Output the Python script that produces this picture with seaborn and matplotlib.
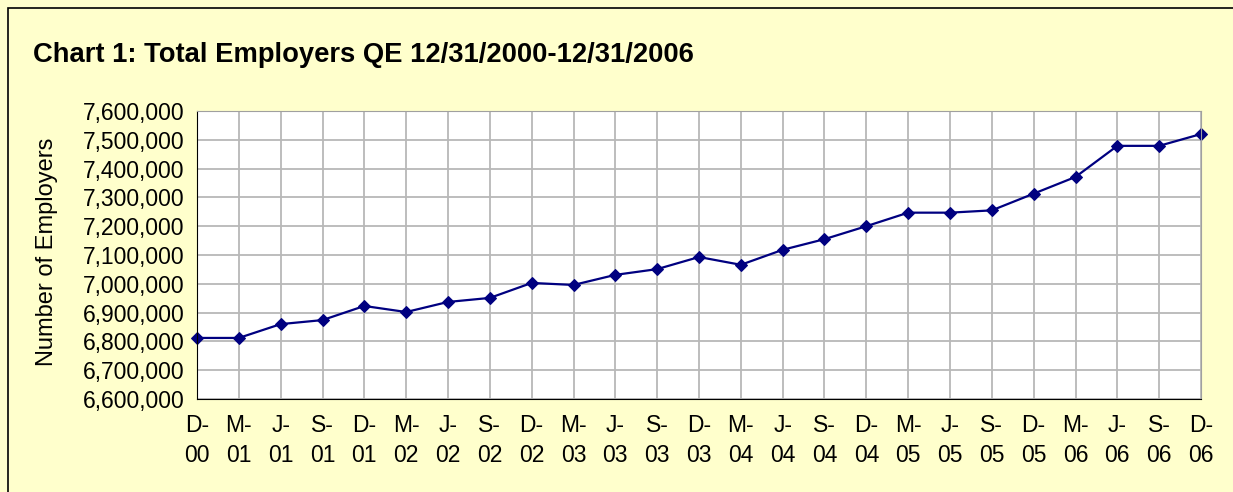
import matplotlib
matplotlib.use("Agg")
import matplotlib.pyplot as plt
import seaborn as sns
import pandas as pd
from matplotlib.ticker import FuncFormatter, MultipleLocator
from matplotlib.patches import Rectangle

quarters = ['D-\n00', 'M-\n01', 'J-\n01', 'S-\n01', 'D-\n01', 'M-\n02', 'J-\n02', 'S-\n02',
            'D-\n02', 'M-\n03', 'J-\n03', 'S-\n03', 'D-\n03', 'M-\n04', 'J-\n04', 'S-\n04',
            'D-\n04', 'M-\n05', 'J-\n05', 'S-\n05', 'D-\n05', 'M-\n06', 'J-\n06', 'S-\n06',
            'D-\n06']
employers = [6812000, 6812000, 6860000, 6874000, 6923000, 6902000, 6937000, 6951000,
             7003000, 6996000, 7031000, 7051000, 7093000, 7066000, 7118000, 7155000,
             7200000, 7247000, 7247000, 7255000, 7313000, 7371000, 7479000, 7479000,
             7520000]

df = pd.DataFrame({'pos': range(len(quarters)), 'employers': employers})

sns.set_style("white")
plt.rcParams['font.family'] = ['Liberation Sans', 'DejaVu Sans']
plt.rcParams['text.color'] = 'black'
plt.rcParams['xtick.color'] = 'black'
plt.rcParams['ytick.color'] = 'black'
plt.rcParams['axes.labelcolor'] = 'black'

fig = plt.figure(figsize=(12.33, 4.92), dpi=100, facecolor='#FFFFCC')
fig.patches.append(Rectangle((8 / 1233, -0.1), 1.2, 1 - 8 / 492 + 0.1, transform=fig.transFigure,
                             fill=False, edgecolor='black', linewidth=1.2))
ax = fig.add_axes([197 / 1233, 1 - 399 / 492, (1201 - 197) / 1233, (399 - 111) / 492])
ax.set_facecolor('white')

sns.lineplot(data=df, x='pos', y='employers', ax=ax, color='#000080', marker='D',
             markersize=6.5, markeredgecolor='#000080', linewidth=1.6, clip_on=False)

ax.set_xlim(0, len(quarters) - 1)
ax.set_ylim(6600000, 7600000)
ax.set_xticks(range(len(quarters)))
ax.set_xticklabels(quarters, linespacing=1.35)
ax.yaxis.set_major_locator(MultipleLocator(100000))
ax.yaxis.set_major_formatter(FuncFormatter(lambda v, p: f'{int(v):,}'))
ax.grid(True, color='#B8B8B8', linewidth=1.3)
ax.set_axisbelow(True)

for side in ['top', 'right']:
    ax.spines[side].set_color('#A0A0A0')
for side in ['left', 'bottom']:
    ax.spines[side].set_color('black')
ax.tick_params(axis='both', direction='out', length=5, width=1, color='black',
               labelsize=16.5, pad=4)
ax.tick_params(axis='x', pad=6)

ax.set_xlabel('')
ax.set_ylabel('Number of Employers', fontsize=17)
ax.yaxis.set_label_coords(-0.138, 0.51)
fig.text(33 / 1233, 1 - 55 / 492, 'Chart 1: Total Employers QE 12/31/2000-12/31/2006',
         fontsize=19.7, fontweight='bold', va='center', ha='left')

fig.savefig('out.png', dpi=100, facecolor=fig.get_facecolor())
